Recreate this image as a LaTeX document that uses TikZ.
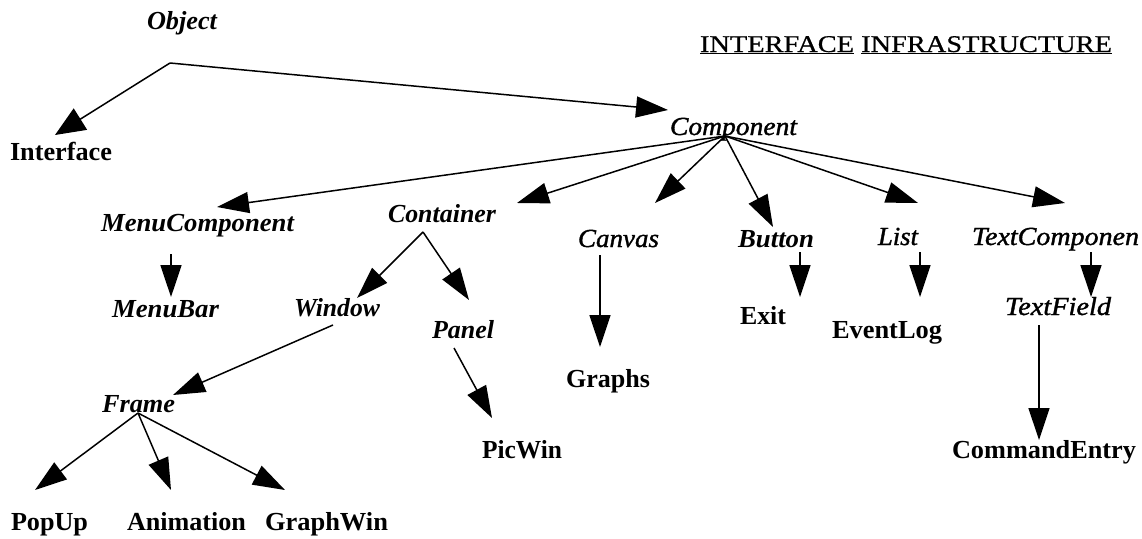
\documentclass[tikz,border=0pt]{standalone}
\usepackage{fontspec}
\setmainfont{Liberation Serif}
\newfontface\meditfont{Liberation Serif Italic}[FakeBold=1.3]
\newfontface\headfont{Liberation Serif}[FakeBold=0.6]
\usepackage{graphicx}
\usetikzlibrary{arrows.meta}
\newlength\fitlen
\newcommand\fitto[2]{\settowidth{\fitlen}{#2}\pgfmathsetmacro\fitfac{#1/\fitlen}\scalebox{\fitfac}[1]{#2}}
\tikzset{
  lbl/.style={inner sep=0pt, outer sep=0pt, anchor=base west},
  bi/.style={lbl, font=\fontsize{26}{30}\selectfont\bfseries\itshape},
  it/.style={lbl, font=\fontsize{26}{30}\selectfont\meditfont},
  bu/.style={lbl, font=\fontsize{26}{30}\selectfont\bfseries},
  hd/.style={lbl, font=\fontsize{24}{28}\selectfont\headfont},
  arr/.style={line width=1.5pt, -{Triangle[length=32pt,width=21pt]}},
  bigarr/.style={line width=1.5pt, -{Triangle[length=30pt,width=25pt]}}
}
\begin{document}
\begin{tikzpicture}[x=1pt,y=-1pt]
\useasboundingbox (0,0) rectangle (1142,538);
% labels
\node[bi] (obj) at (147,29) {\fitto{70}{Object}};
\node[hd] (head) at (700,52) {\fitto{412}{\underline{INTERFACE} \underline{INFRASTRUCTURE}}};
\node[bu] (intf) at (10,160) {\fitto{102}{Interface}};
\node[it] (comp) at (670,135) {\fitto{127}{Component}};
\node[bi] (menuc) at (101,231) {\fitto{193}{MenuComponent}};
\node[bi] (cont) at (388,222) {\fitto{108}{Container}};
\node[it] (canv) at (578,247) {\fitto{81}{Canvas}};
\node[bi] (butt) at (738,247) {\fitto{76}{Button}};
\node[it] (list) at (878,245) {\fitto{40}{List}};
\node[it] (textc) at (972,245) {\fitto{167}{TextComponen}};
\node[bi] (menub) at (112,317) {\fitto{107}{MenuBar}};
\node[bi] (win) at (294,316) {\fitto{86}{Window}};
\node[bi] (panel) at (432,338) {\fitto{62}{Panel}};
\node[bu] (exit) at (740,324) {\fitto{46}{Exit}};
\node[bu] (evlog) at (832,338) {\fitto{110}{EventLog}};
\node[it] (textf) at (1005,315) {\fitto{106}{TextField}};
\node[bu] (graphs) at (566,387) {\fitto{84}{Graphs}};
\node[bi] (frame) at (102,412) {\fitto{73}{Frame}};
\node[bu] (picwin) at (482,458) {\fitto{80}{PicWin}};
\node[bu] (cmd) at (952,458) {\fitto{184}{CommandEntry}};
\node[bu] (popup) at (11,530) {\fitto{77}{PopUp}};
\node[bu] (anim) at (127,530) {\fitto{119}{Animation}};
\node[bu] (graphwin) at (265,530) {\fitto{123}{GraphWin}};
% connector end points
\coordinate (objF) at (170,63);
\coordinate (intfT) at (55,135);
\coordinate (compT) at (668,110);
\coordinate (compF) at (725,136);
\coordinate (menucT) at (217,207);
\coordinate (contT) at (517,203);
\coordinate (canvT) at (655,203);
\coordinate (buttT) at (773,227);
\coordinate (listT) at (918,203);
\coordinate (textcT) at (1065,203);
\coordinate (menucF) at (171,254);
\coordinate (menubT) at (171,297);
\coordinate (contF) at (423,232);
\coordinate (winT) at (357,298);
\coordinate (panelT) at (469,300);
\coordinate (winF) at (333,325);
\coordinate (frameT) at (173,395);
\coordinate (panelF) at (454,348);
\coordinate (picwinT) at (492,418);
\coordinate (canvF) at (600,255);
\coordinate (graphsT) at (600,347);
\coordinate (buttF) at (800,252);
\coordinate (exitT) at (800,297);
\coordinate (listF) at (920,252);
\coordinate (evlogT) at (920,297);
\coordinate (textcF) at (1091,252);
\coordinate (textfT) at (1091,297);
\coordinate (textfF) at (1039,325);
\coordinate (cmdT) at (1039,440);
\coordinate (frameF) at (138,413);
\coordinate (popupT) at (35,490);
\coordinate (animT) at (171,490);
\coordinate (graphwinT) at (285,490);
% connectors
\draw[bigarr] (objF) -- (intfT);
\draw[arr] (objF) -- (compT);
\draw[arr] (compF) -- (menucT);
\draw[arr] (compF) -- (contT);
\draw[arr] (compF) -- (canvT);
\draw[arr] (compF) -- (buttT);
\draw[arr] (compF) -- (listT);
\draw[arr] (compF) -- (textcT);
\draw[arr] (menucF) -- (menubT);
\draw[arr] (contF) -- (winT);
\draw[arr] (contF) -- (panelT);
\draw[arr] (winF) -- (frameT);
\draw[arr] (panelF) -- (picwinT);
\draw[arr] (canvF) -- (graphsT);
\draw[arr] (buttF) -- (exitT);
\draw[arr] (listF) -- (evlogT);
\draw[arr] (textcF) -- (textfT);
\draw[arr] (textfF) -- (cmdT);
\draw[arr] (frameF) -- (popupT);
\draw[arr] (frameF) -- (animT);
\draw[arr] (frameF) -- (graphwinT);
\end{tikzpicture}
\end{document}
